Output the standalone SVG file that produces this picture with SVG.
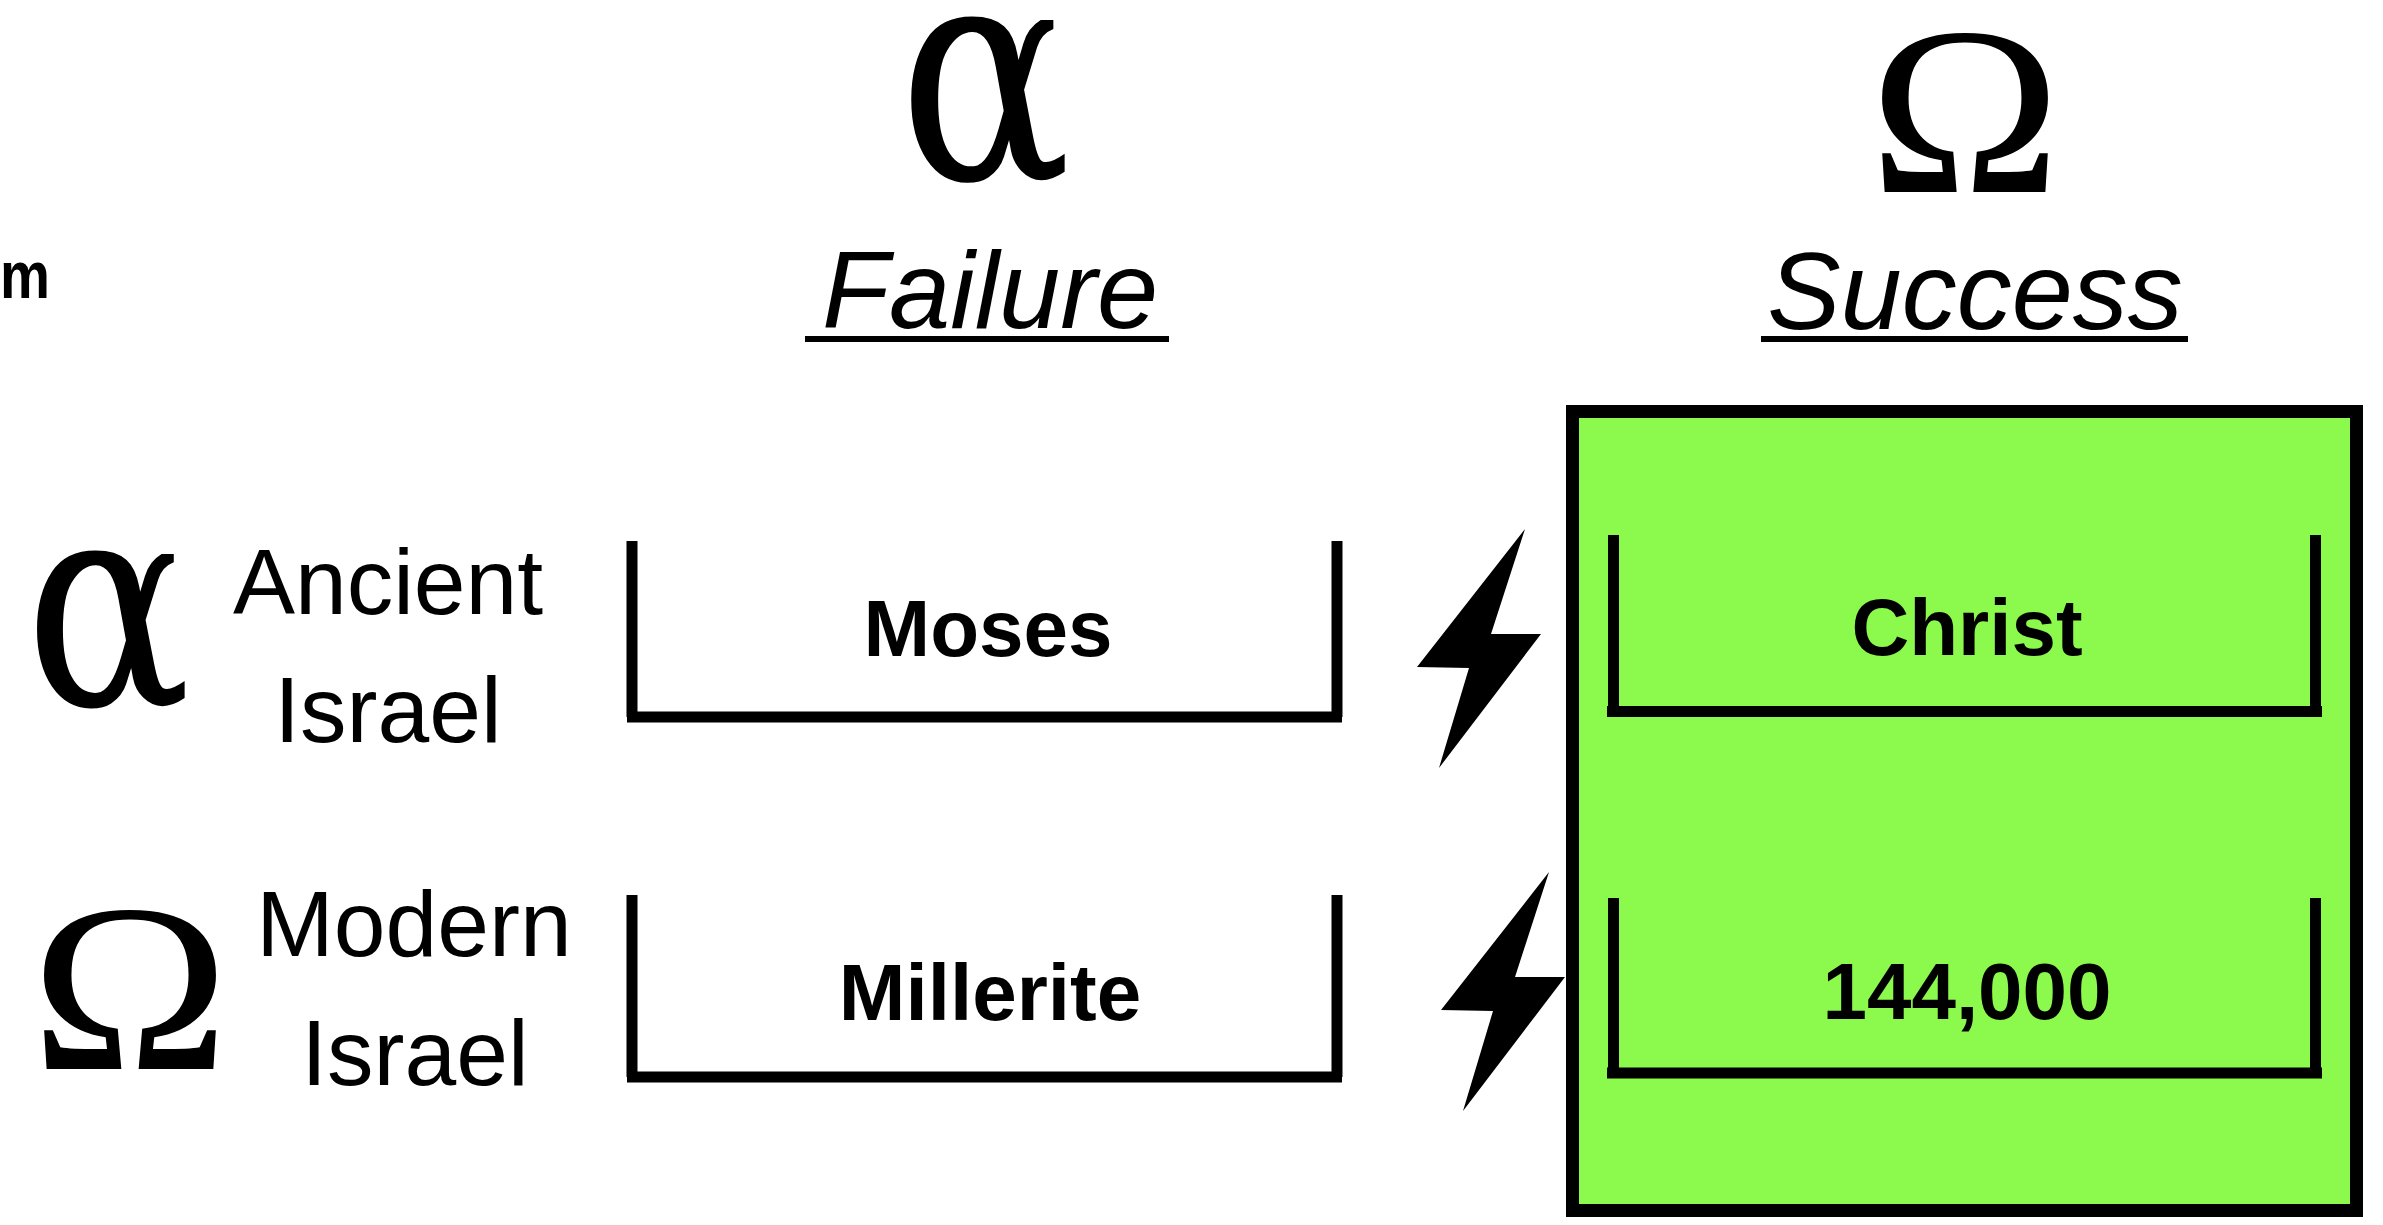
<svg xmlns="http://www.w3.org/2000/svg" width="2383" height="1225" viewBox="0 0 2383 1225">
<style>
.sym{font-family:"Liberation Serif","Times New Roman",serif;fill:#000}
.alpha{font-family:"DejaVu Serif","Liberation Serif",serif;fill:#000}
.head{font-family:"Liberation Sans",Arial,sans-serif;font-style:italic;font-size:110px;fill:#000;text-anchor:middle}
.lab{font-family:"Liberation Sans",Arial,sans-serif;font-size:93px;fill:#000;text-anchor:middle}
.name{font-family:"Liberation Sans",Arial,sans-serif;font-weight:bold;font-size:80px;fill:#000;text-anchor:middle}
.br{fill:none;stroke:#000;stroke-width:11;stroke-linecap:butt}
.ul{stroke:#000;stroke-width:6}
</style>
<defs>
<polygon id="bolt" points="1525,529 1417,667 1469,668 1439,768 1541,634 1491,634" fill="#000"/>
</defs>
<rect width="2383" height="1225" fill="#fff"/>

<g id="cut-label"><text x="0" y="298" font-family="Liberation Sans, Arial, sans-serif" font-size="66" font-weight="bold" textLength="50" lengthAdjust="spacingAndGlyphs">m</text></g>

<g id="header-failure">
<text class="alpha" x="985" y="179" font-size="305" text-anchor="middle" transform="translate(985 0) scale(0.84 1) translate(-985 0)">α</text>
<text class="head" x="990" y="328">Failure</text>
<line class="ul" x1="805" y1="339" x2="1169" y2="339"/>
</g>

<g id="header-success">
<text class="sym" x="1965" y="192" font-size="240" text-anchor="middle" transform="translate(1965 0) scale(1.08 1) translate(-1965 0)">Ω</text>
<text class="head" x="1975" y="329">Success</text>
<line class="ul" x1="1761" y1="339" x2="2188" y2="339"/>
</g>

<g id="row-ancient">
<text class="alpha" x="108" y="705" font-size="290" text-anchor="middle" transform="translate(108 0) scale(0.85 1) translate(-108 0)">α</text>
<text class="lab" x="388" y="614">Ancient</text>
<text class="lab" x="388" y="742">Israel</text>
</g>

<g id="row-modern">
<text class="sym" x="130" y="1069" font-size="240" text-anchor="middle" transform="translate(130 0) scale(1.12 1) translate(-130 0)">Ω</text>
<text class="lab" x="414" y="956">Modern</text>
<text class="lab" x="415" y="1085">Israel</text>
</g>

<g id="success-box">
<rect x="1572.5" y="411.5" width="784" height="799" fill="#8BFA4C" stroke="#000" stroke-width="13"/>
</g>

<g id="node-moses">
<path class="br" d="M632,541 V717 M1337,541 V717 M627,717 H1342"/>
<text class="name" x="988" y="656">Moses</text>
</g>

<g id="node-millerite">
<path class="br" d="M632,895 V1077 M1337,895 V1077 M627,1077 H1342"/>
<text class="name" x="990" y="1020">Millerite</text>
</g>

<g id="node-christ">
<path class="br" d="M1613.5,535 V711.5 M2315.5,535 V711.5 M1607,711.5 H2322"/>
<text class="name" x="1967" y="655">Christ</text>
</g>

<g id="node-144000">
<path class="br" d="M1613.5,898 V1073 M2315.5,898 V1073 M1607,1073 H2322"/>
<text class="name" x="1967" y="1019">144,000</text>
</g>

<g id="connectors">
<use href="#bolt"/>
<use href="#bolt" transform="translate(24,343)"/>
</g>
</svg>
